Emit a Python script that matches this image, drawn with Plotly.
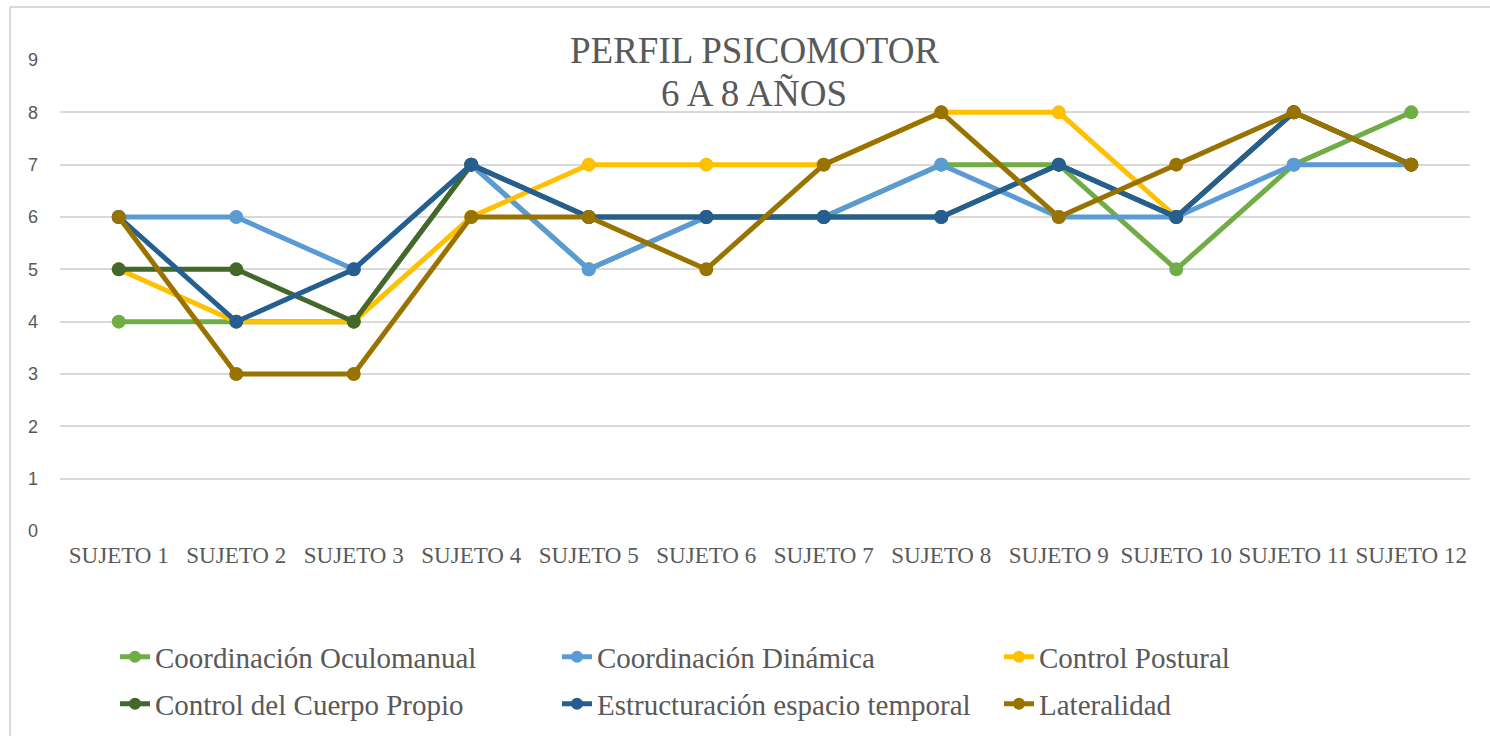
import plotly.graph_objects as go

categories = ["SUJETO 1", "SUJETO 2", "SUJETO 3", "SUJETO 4", "SUJETO 5", "SUJETO 6",
              "SUJETO 7", "SUJETO 8", "SUJETO 9", "SUJETO 10", "SUJETO 11", "SUJETO 12"]

coord_oculomanual = [4, 4, 4, 7, 5, 6, 6, 7, 7, 5, 7, 8]
coord_dinamica = [6, 6, 5, 7, 5, 6, 6, 7, 6, 6, 7, 7]
control_postural = [5, 4, 4, 6, 7, 7, 7, 8, 8, 6, 8, 7]
control_cuerpo = [5, 5, 4, 7, 6, 6, 6, 6, 7, 6, 8, 7]
estructuracion = [6, 4, 5, 7, 6, 6, 6, 6, 7, 6, 8, 7]
lateralidad = [6, 3, 3, 6, 6, 5, 7, 8, 6, 7, 8, 7]

series_names = ["Coordinación Oculomanual", "Coordinación Dinámica", "Control Postural",
                "Control del Cuerpo Propio", "Estructuración espacio temporal", "Lateralidad"]
series_values = [coord_oculomanual, coord_dinamica, control_postural,
                 control_cuerpo, estructuracion, lateralidad]
series_colors = ["#70AD47", "#5B9BD5", "#FFC000", "#43682B", "#255E91", "#997300"]
legend_rows = ["legend", "legend", "legend", "legend2", "legend2", "legend2"]

W, H = 1490, 736
L, R, T, B = 60, 20, 60, 205
pw, ph = W - L - R, H - T - B

def px_x(p):
    return (p - L) / pw

def px_y(p):
    return (H - B - p) / ph

fig = go.Figure()
for name, vals, col, lg in zip(series_names, series_values, series_colors, legend_rows):
    fig.add_trace(go.Scatter(
        x=categories, y=vals, name=name, mode="lines+markers",
        line=dict(color=col, width=5),
        marker=dict(color=col, size=14),
        legend=lg,
    ))

grey = "#595959"
legend_common = dict(
    orientation="h", xanchor="left", yanchor="middle",
    font=dict(family="Liberation Serif", size=29, color=grey),
    entrywidth=397, entrywidthmode="pixels",
    bgcolor="rgba(0,0,0,0)", itemsizing="constant",
)
fig.update_layout(
    width=W, height=H,
    margin=dict(l=L, r=R, t=T, b=B, autoexpand=False),
    paper_bgcolor="white", plot_bgcolor="white",
    showlegend=True,
    legend=dict(x=px_x(115), y=px_y(657), **legend_common),
    legend2=dict(x=px_x(115), y=px_y(704), **legend_common),
    xaxis=dict(
        type="category", range=[-0.5, 11.5], showgrid=False, zeroline=False,
        showline=False, ticks="", automargin=False, tickangle=0,
        tickfont=dict(family="Liberation Serif", size=23, color=grey),
        ticklabelstandoff=8,
    ),
    yaxis=dict(
        range=[0, 9], dtick=1, showgrid=True, gridcolor="#D9D9D9", gridwidth=1.5,
        zeroline=False, showline=False, automargin=False,
        tickfont=dict(family="Liberation Sans", size=18, color=grey),
        ticklabelstandoff=21,
    ),
    annotations=[
        dict(text="PERFIL PSICOMOTOR", xref="paper", yref="paper",
             x=px_x(754), y=px_y(50), xanchor="center", yanchor="middle",
             showarrow=False, bgcolor="white",
             font=dict(family="Liberation Serif", size=37, color=grey)),
        dict(text="6 A 8 AÑOS", xref="paper", yref="paper",
             x=px_x(754), y=px_y(93), xanchor="center", yanchor="middle",
             showarrow=False,
             font=dict(family="Liberation Serif", size=37, color=grey)),
    ],
    shapes=[
        dict(type="line", xref="paper", yref="paper", x0=px_x(10), x1=px_x(1500),
             y0=px_y(7), y1=px_y(7), line=dict(color="#D9D9D9", width=2)),
        dict(type="line", xref="paper", yref="paper", x0=px_x(10), x1=px_x(10),
             y0=px_y(7), y1=px_y(745), line=dict(color="#D9D9D9", width=2)),
    ],
)

fig.write_html("out.html", config={"displayModeBar": False},
               post_script="document.body.style.margin='0';")
